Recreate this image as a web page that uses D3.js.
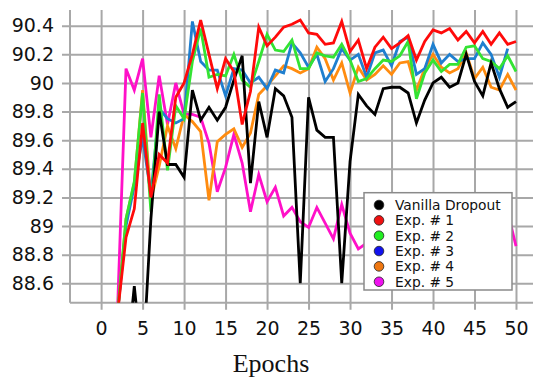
<!DOCTYPE html>
<html>
<head>
<meta charset="utf-8">
<script src="https://cdn.jsdelivr.net/npm/d3@7"></script>
<style>
  body { margin: 0; background: #fff; }
  svg { display: block; }
</style>
</head>
<body>
<div id="chart"></div>
<script>
// epochs on the x axis
var epochs = [1,2,3,4,5,6,7,8,9,10,11,12,13,14,15,16,17,18,19,20,21,22,23,24,25,
  26,27,28,29,30,31,32,33,34,35,36,37,38,39,40,41,42,43,44,45,46,47,48,49,50];

// accuracy per run (below-range ones estimated)
var vanilla = [87.9,87.9,88.0,88.58,88.0,89.05,89.8,89.43,89.43,89.34,89.95,89.74,89.83,89.74,89.83,
  90.02,90.19,89.3,89.87,89.62,89.96,89.91,89.76,88.6,89.9,89.67,89.62,89.62,88.6,89.45,
  89.92,89.84,89.78,89.96,89.97,89.97,89.93,89.72,89.88,90.0,90.04,89.97,90.0,90.2,90.01,
  89.91,90.14,89.96,89.83,89.87];
var exp1 = [87.8,88.4,88.92,89.12,89.72,89.2,89.5,89.44,89.9,90.0,90.2,90.44,90.2,89.96,90.17,
  90.08,89.71,89.94,90.39,90.26,90.32,90.39,90.41,90.44,90.35,90.34,90.27,90.28,90.43,90.22,
  90.3,90.1,90.25,90.32,90.24,90.28,90.33,90.16,90.29,90.37,90.35,90.38,90.3,90.36,90.28,
  90.36,90.27,90.35,90.27,90.29];
var exp2 = [87.8,88.4,89.05,89.31,89.93,89.1,89.92,89.39,89.84,89.75,90.15,90.38,90.04,90.06,90.05,
  90.2,90.02,89.97,90.15,90.34,90.23,90.22,90.3,90.1,90.1,90.21,90.19,90.18,90.27,90.16,
  90.01,90.03,90.1,90.16,90.15,90.19,90.29,89.89,90.07,90.16,90.08,90.13,90.13,90.25,90.26,
  90.17,90.15,90.1,90.19,90.08];
var exp3 = [87.8,88.4,89.0,89.28,89.62,89.22,89.82,89.75,89.72,89.75,90.43,90.15,90.09,90.09,89.91,
  90.1,90.09,90.0,90.04,89.96,90.09,90.07,90.28,90.21,90.11,90.2,90.01,90.1,90.24,90.16,
  90.2,90.04,90.21,90.23,90.12,90.29,90.32,90.06,90.1,90.27,90.14,90.2,90.15,90.17,90.17,
  90.28,90.2,90.04,90.24,null];
var exp4 = [87.8,88.4,89.05,89.3,89.95,89.18,89.42,89.7,89.54,89.78,89.73,89.66,89.18,89.59,89.64,
  89.68,89.55,89.65,89.92,89.98,90.05,90.12,90.1,90.07,90.1,90.25,90.17,90.02,90.14,89.93,
  90.11,90.02,90.06,90.12,90.06,90.14,90.15,89.95,90.1,90.2,90.11,90.07,90.1,90.21,90.03,
  90.11,89.97,89.95,90.06,89.95];
var exp5 = [87.8,88.45,90.1,89.95,90.17,89.62,90.05,89.71,90.0,89.78,89.78,89.76,89.58,89.24,89.41,
  89.64,89.44,89.1,89.36,89.17,89.27,89.07,89.13,89.03,88.99,89.13,89.02,88.91,89.15,88.95,
  88.84,88.88,88.95,88.9,88.98,88.92,89.0,88.94,88.9,88.97,89.02,88.93,88.96,89.0,88.92,
  88.98,88.95,89.02,89.1,88.86];

var seriesNames = ["Vanilla Dropout", "Exp. # 1", "Exp. # 2", "Exp. # 3", "Exp. # 4", "Exp. # 5"];
var seriesValues = [vanilla, exp1, exp2, exp3, exp4, exp5];

var xTicks = [0,5,10,15,20,25,30,35,40,45,50];
var yTicks = [88.6,88.8,89,89.2,89.4,89.6,89.8,90,90.2,90.4];

// styles
var lineColors = ["#000000", "#ff0a0a", "#33e333", "#1f7fcf", "#ff8c10", "#ff10c8"];
var dotColors  = ["#000000", "#ee1111", "#22ee22", "#1111ee", "#ee7711", "#ee11ee"];
var drawOrder = [5, 4, 3, 2, 0, 1];

var width = 550, height = 384;
// "top" is taken by window.top, so plot edges get their own names
var plotL = 70, plotR = 533, plotT = 10, plotB = 302.7;
var gridColor = "#a8a8a8";

var svg = d3.select("#chart").append("svg")
  .attr("width", width)
  .attr("height", height);

var x = d3.scaleLinear().domain([-3.75, 52.05]).range([plotL, plotR]);
var y = d3.scaleLinear().domain([88.464, 90.51]).range([plotB, plotT]);

// grid + ticks + labels, bottom
var xAxis = svg.append("g")
  .attr("transform", "translate(0," + (plotB + 7) + ")")
  .call(d3.axisBottom(x).tickValues(xTicks).tickSize(-(plotB + 7 - plotT)).tickPadding(12).tickFormat(d3.format("d")));
xAxis.select(".domain").remove();
xAxis.selectAll("line").attr("stroke", gridColor).attr("stroke-width", 2);
xAxis.selectAll("text")
  .attr("fill", "#111")
  .style("font-family", "'DejaVu Sans', sans-serif")
  .style("font-size", "19px");

// grid + ticks + labels, left
var yAxis = svg.append("g")
  .attr("transform", "translate(" + (plotL - 8) + ",0)")
  .call(d3.axisLeft(y).tickValues(yTicks).tickSize(-(plotR - plotL + 8)).tickPadding(8).tickFormat(d3.format("~g")));
yAxis.select(".domain").remove();
yAxis.selectAll("line").attr("stroke", gridColor).attr("stroke-width", 2);
yAxis.selectAll("text")
  .attr("fill", "#111")
  .style("font-family", "'DejaVu Sans', sans-serif")
  .style("font-size", "19px");

// axis lines
svg.append("line")
  .attr("x1", plotL).attr("x2", plotL).attr("y1", plotT).attr("y2", plotB)
  .attr("stroke", gridColor).attr("stroke-width", 2);
svg.append("line")
  .attr("x1", plotL).attr("x2", plotR).attr("y1", plotB).attr("y2", plotB)
  .attr("stroke", gridColor).attr("stroke-width", 2);

svg.append("defs").append("clipPath")
  .attr("id", "plotClip")
  .append("rect")
  .attr("x", plotL).attr("y", plotT)
  .attr("width", plotR - plotL).attr("height", plotB - plotT);

var line = d3.line()
  .defined(function (d) { return d != null; })
  .x(function (d, i) { return x(epochs[i]); })
  .y(function (d) { return y(d); });

var plot = svg.append("g").attr("clip-path", "url(#plotClip)");

plot.selectAll("path")
  .data(drawOrder)
  .enter().append("path")
  .attr("d", function (k) { return line(seriesValues[k]); })
  .attr("fill", "none")
  .attr("stroke", function (k) { return lineColors[k]; })
  .attr("stroke-width", 2.8)
  .attr("stroke-linejoin", "miter");

// legend
var legend = svg.append("g");
legend.append("rect")
  .attr("x", 364).attr("y", 192.7)
  .attr("width", 148).attr("height", 97.3)
  .attr("fill", "#fff")
  .attr("stroke", "#8a8a8a")
  .attr("stroke-width", 1.5);

var rows = legend.selectAll("g.row")
  .data(seriesNames)
  .enter().append("g")
  .attr("class", "row")
  .attr("transform", function (d, i) { return "translate(379," + (205 + i * 15.35) + ")"; });

rows.append("circle")
  .attr("r", 4.8)
  .attr("fill", function (d, i) { return dotColors[i]; })
  .attr("stroke", "#222")
  .attr("stroke-width", 0.8);

rows.append("text")
  .attr("x", 16)
  .attr("y", 5)
  .attr("fill", "#111")
  .style("font-family", "'DejaVu Sans', sans-serif")
  .style("font-size", "13.8px")
  .text(function (d) { return d; });

// x label
svg.append("text")
  .attr("x", 271)
  .attr("y", 372)
  .attr("text-anchor", "middle")
  .attr("fill", "#111")
  .style("font-family", "'Liberation Serif', serif")
  .style("font-size", "26px")
  .text("Epochs");
</script>
</body>
</html>
